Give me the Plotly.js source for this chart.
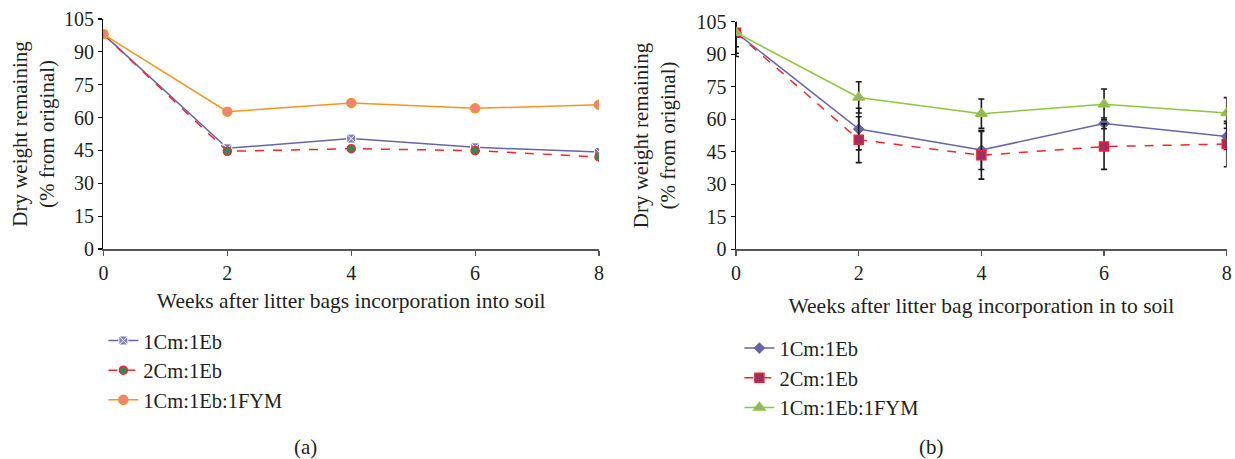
<!DOCTYPE html>
<html>
<head>
<meta charset="utf-8">
<script src="https://cdn.plot.ly/plotly-3.0.1.min.js"></script>
<style>html,body{margin:0;padding:0;background:#fff;}#chart{width:1235px;height:459px;}</style>
</head>
<body>
<div id="chart"></div>
<script>
const weeks = [0, 2, 4, 6, 8];
const seriesNames = ["1Cm:1Eb", "2Cm:1Eb", "1Cm:1Eb:1FYM"];
// Panel (a)
const a_1Cm1Eb = [98, 46.0, 50.4, 46.4, 44.3];
const a_2Cm1Eb = [98, 44.6, 45.8, 44.9, 42.0];
const a_1Cm1Eb1FYM = [98, 62.7, 66.7, 64.2, 65.9];
// Panel (b)
const b_1Cm1Eb = [100, 55.5, 45.8, 58.1, 52.1];
const b_2Cm1Eb = [100, 50.6, 43.4, 47.4, 48.6];
const b_1Cm1Eb1FYM = [100, 70.1, 62.6, 66.9, 62.9];
const err_1Cm1Eb = [9.5, 9.6, 9.0, 2.5, 6.0];
const err_2Cm1Eb = [11.0, 10.6, 11.0, 10.5, 10.5];
const err_1Cm1Eb1FYM = [6.5, 7.2, 6.8, 7.1, 7.1];
const yTicks = [0, 15, 30, 45, 60, 75, 90, 105];

const FONT = "Liberation Serif, Times New Roman, serif";
const TXT = "#231f20";
const errStyle = arr => ({type: "data", array: arr, visible: true, color: "#1a1a1a", thickness: 1.6, width: 3});

const traces = [
  {x: weeks, y: a_1Cm1Eb, name: seriesNames[0], xaxis: "x", yaxis: "y", legend: "legend", mode: "lines+markers",
   line: {color: "#6466a6", width: 1.5}, marker: {symbol: "square-x", size: 9, color: "#7f81bd", line: {color: "#ffffff", width: 1}}},
  {x: weeks, y: a_2Cm1Eb, name: seriesNames[1], xaxis: "x", yaxis: "y", legend: "legend", mode: "lines+markers",
   line: {color: "#f0282d", width: 1.5, dash: "dash"}, marker: {symbol: "circle", size: 8, color: "#2e8b57", line: {color: "#f0282d", width: 1.5}}},
  {x: weeks, y: a_1Cm1Eb1FYM, name: seriesNames[2], xaxis: "x", yaxis: "y", legend: "legend", mode: "lines+markers",
   line: {color: "#f7941d", width: 1.5}, marker: {symbol: "circle", size: 9, color: "#f08078", line: {color: "#f7941d", width: 1.5}}},
  {x: weeks, y: b_1Cm1Eb, name: seriesNames[0], xaxis: "x2", yaxis: "y2", legend: "legend2", mode: "lines+markers",
   error_y: errStyle(err_1Cm1Eb),
   line: {color: "#6466a6", width: 1.5}, marker: {symbol: "diamond", size: 9, color: "#6466a6", line: {color: "#6466a6", width: 0}}},
  {x: weeks, y: b_2Cm1Eb, name: seriesNames[1], xaxis: "x2", yaxis: "y2", legend: "legend2", mode: "lines+markers",
   error_y: errStyle(err_2Cm1Eb),
   line: {color: "#f0282d", width: 1.5, dash: "dash"}, marker: {symbol: "square", size: 9, color: "#9b2f62", line: {color: "#ee2030", width: 1.5}}},
  {x: weeks, y: b_1Cm1Eb1FYM, name: seriesNames[2], xaxis: "x2", yaxis: "y2", legend: "legend2", mode: "lines+markers",
   error_y: errStyle(err_1Cm1Eb1FYM),
   line: {color: "#8dc63f", width: 1.5}, marker: {symbol: "triangle-up", size: 10, color: "#9aaf6a", line: {color: "#8dc63f", width: 1.5}}}
];

const xBase = {range: [0, 8], tickvals: weeks, ticktext: weeks.map(String), showgrid: false, zeroline: false,
  showline: true, linecolor: "#555555", linewidth: 2, ticks: "outside", ticklen: 5, tickwidth: 1.2, tickcolor: "#555555",
  tickfont: {family: FONT, size: 20, color: TXT}, fixedrange: true};
const yBase = {range: [0, 105], tickvals: yTicks, showgrid: false, zeroline: false,
  showline: true, linecolor: "#111111", linewidth: 1.5, ticks: "outside", ticklen: 4, tickwidth: 1.2, tickcolor: "#111111",
  tickfont: {family: FONT, size: 20, color: TXT}, fixedrange: true};
const yTitleText = "Dry weight remaining<br>(% from original)";

const layout = {
  width: 1235, height: 459,
  margin: {l: 0, r: 0, t: 0, b: 0},
  paper_bgcolor: "#ffffff", plot_bgcolor: "#ffffff",
  font: {family: FONT, color: TXT},
  showlegend: true,
  xaxis: Object.assign({}, xBase, {domain: [0.0838, 0.485], anchor: "y",
    title: {text: "Weeks after litter bags incorporation into soil", font: {family: FONT, size: 21.5, color: TXT}, standoff: 10}}),
  yaxis: Object.assign({}, yBase, {domain: [0.4575, 0.9586], anchor: "x",
    title: {text: yTitleText, font: {family: FONT, size: 21, color: TXT}, standoff: 3}}),
  xaxis2: Object.assign({}, xBase, {domain: [0.596, 0.9933], anchor: "y2",
    title: {text: "Weeks after litter bag incorporation in to soil", font: {family: FONT, size: 21.5, color: TXT}, standoff: 15}}),
  yaxis2: Object.assign({}, yBase, {domain: [0.4569, 0.9525], anchor: "x2",
    title: {text: yTitleText, font: {family: FONT, size: 21, color: TXT}, standoff: 15}}),
  legend: {x: 0.0837, y: 0.1935, xanchor: "left", yanchor: "middle", bgcolor: "rgba(0,0,0,0)",
    font: {family: FONT, size: 20.5, color: TXT}, itemwidth: 30, tracegroupgap: 0},
  legend2: {x: 0.5987, y: 0.177, xanchor: "left", yanchor: "middle", bgcolor: "rgba(0,0,0,0)",
    font: {family: FONT, size: 20.5, color: TXT}, itemwidth: 30, tracegroupgap: 0},
  annotations: [
    {text: "(a)", xref: "paper", yref: "paper", x: 305 / 1235, y: 1 - 446.7 / 459, xanchor: "center", yanchor: "middle", showarrow: false,
     font: {family: FONT, size: 21, color: TXT}},
    {text: "(b)", xref: "paper", yref: "paper", x: 931.7 / 1235, y: 1 - 446.7 / 459, xanchor: "center", yanchor: "middle", showarrow: false,
     font: {family: FONT, size: 21, color: TXT}}
  ]
};

Plotly.newPlot("chart", traces, layout, {displayModeBar: false, staticPlot: true});
</script>
</body>
</html>
